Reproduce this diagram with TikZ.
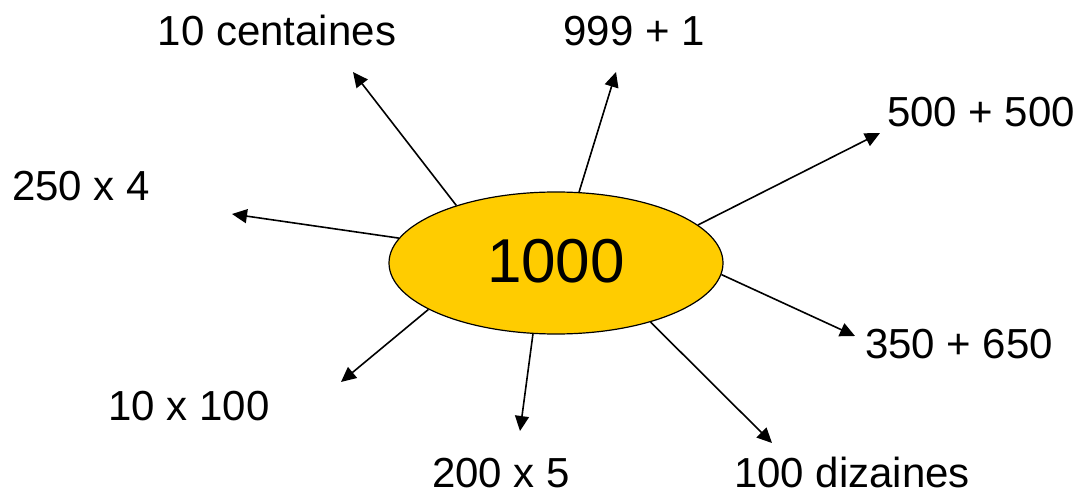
\documentclass[tikz,border=0pt]{standalone}
\usepackage{fontspec}
\setmainfont{Liberation Sans}
\usetikzlibrary{shapes.geometric,arrows.meta}
\definecolor{gold}{HTML}{FFCC00}
\tikzset{
  lbl/.style={font=\fontsize{42}{42}\selectfont, anchor=base, inner sep=0pt},
  arr/.style={-{Triangle[length=15pt,width=14pt]}, line width=1.6pt},
  hub/.style={ellipse, draw=black, line width=1.2pt, fill=gold, minimum width=334pt, minimum height=142pt, inner sep=0pt, font=\fontsize{62}{62}\selectfont}
}
\begin{document}
\begin{tikzpicture}[x=1pt,y=-1pt]
\useasboundingbox (0,0) rectangle (1081,494);
\node[hub] (c) at (556,263) {\raisebox{4pt}{1000}};
% labels
\node[lbl] (l1) at (277,46) {10 centaines};
\node[lbl] (l2) at (634,46) {999 + 1};
\node[lbl] (l3) at (981,127) {500 + 500};
\node[lbl] (l4) at (81,201) {250 x 4};
\node[lbl] (l5) at (959,358) {350 + 650};
\node[lbl] (l6) at (189,420) {10 x 100};
\node[lbl] (l7) at (501,487) {200 x 5};
\node[lbl] (l8) at (852,487) {100 dizaines};
% arrow tips
\coordinate (t1) at (353,72);
\coordinate (t2) at (616,72);
\coordinate (t3) at (880,133);
\coordinate (t4) at (232,214);
\coordinate (t5) at (855,336);
\coordinate (t6) at (341,382);
\coordinate (t7) at (520,431);
\coordinate (t8) at (772,443);
\draw[arr] (c.150) -- (t1);
\draw[arr] (c.72) -- (t2);
\draw[arr] (c.15) -- (t3);
\draw[arr] (c.171) -- (t4);
\draw[arr] (c.-4) -- (t5);
\draw[arr] (c.200) -- (t6);
\draw[arr] (c.252) -- (t7);
\draw[arr] (c.328) -- (t8);
\end{tikzpicture}
\end{document}
